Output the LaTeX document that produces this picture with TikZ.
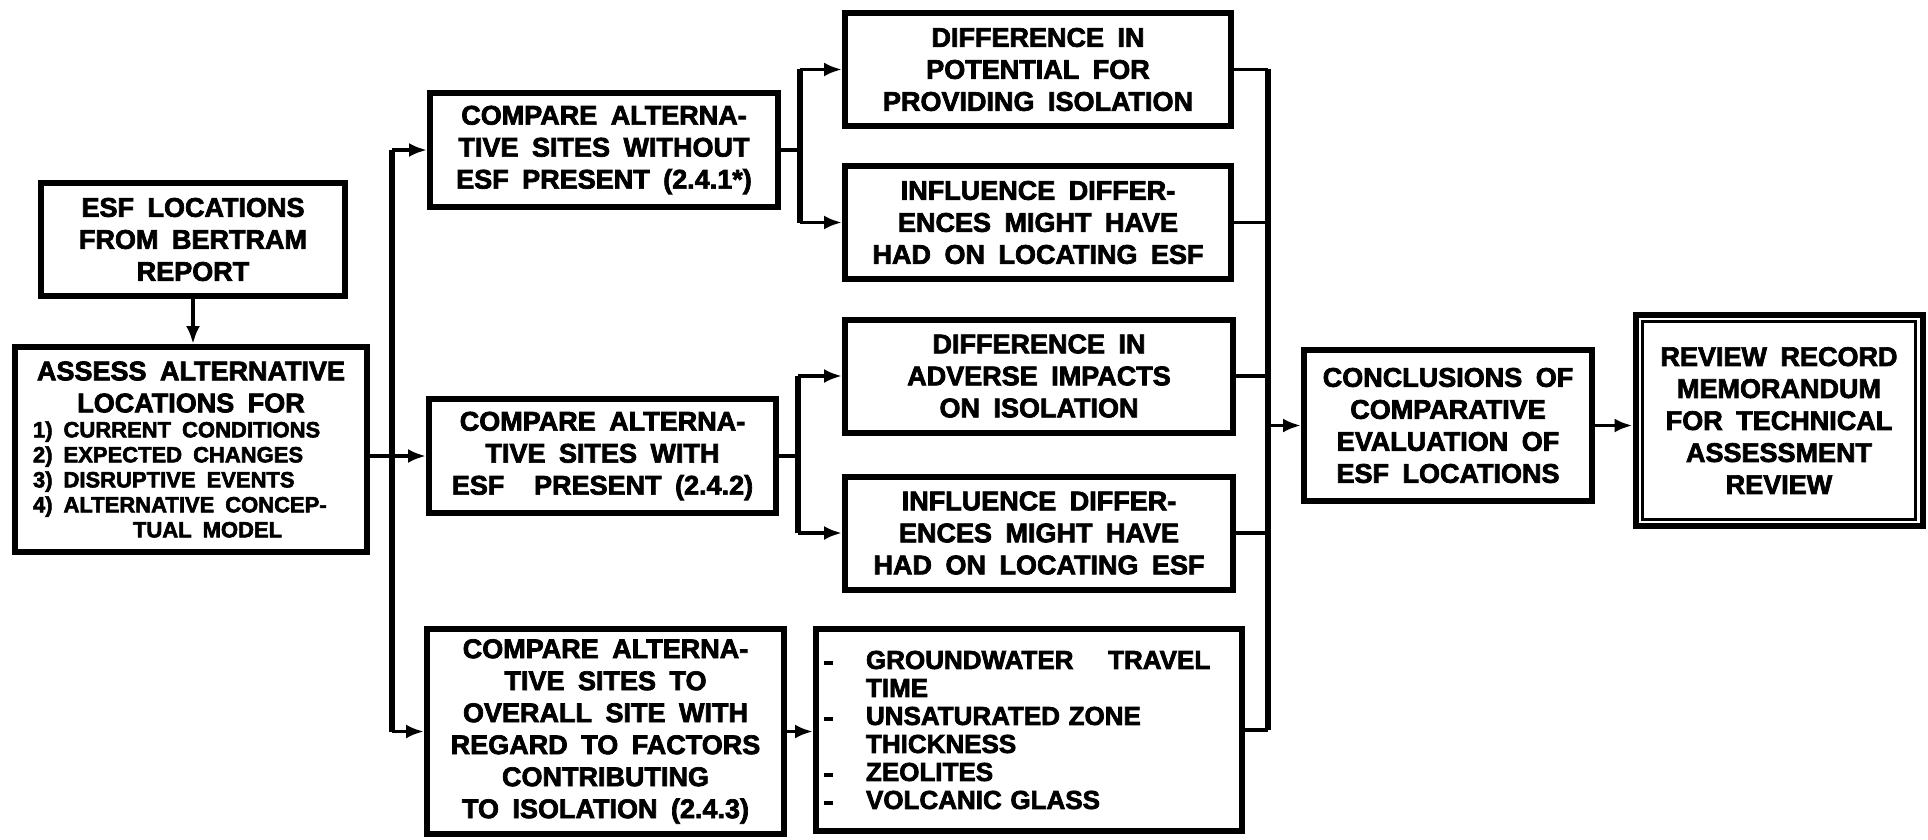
\documentclass[tikz,border=0pt]{standalone}
\usepackage{fontspec}
\newfontfamily\hv{Liberation Sans Bold}[FakeBold=2.6,WordSpace=1.8]
\usetikzlibrary{arrows.meta}
\newcommand{\gwdash}{\makebox[21pt][l]{\rule[0.14em]{4.5pt}{2.4pt}}}
\tikzset{
  box/.style={draw, line width=3pt, inner sep=2pt, align=center,
    font=\hv\fontsize{13.5}{16}\selectfont},
  conn/.style={line width=1.8pt},
  bus/.style={line width=2.6pt},
  arr/.style={conn, -{Latex[length=9pt,width=7pt]}},
}
\begin{document}
\begin{tikzpicture}[x=0.5pt,y=-0.5pt]
\useasboundingbox[fill=white] (0,0) rectangle (1928,840);

\node[box, minimum width=152pt, minimum height=56.5pt] (esf) at (193,239.5)
  {ESF LOCATIONS\\FROM BERTRAM\\REPORT};
\node[box, minimum width=176pt, minimum height=102.5pt] (assess) at (191,449.5)
  {\begin{minipage}{170pt}\centering
   ASSESS ALTERNATIVE\\LOCATIONS FOR\par
   \fontsize{11}{12.5}\selectfont\raggedright\leftskip=6pt
   1) CURRENT CONDITIONS\\
   2) EXPECTED CHANGES\\
   3) DISRUPTIVE EVENTS\\
   4) ALTERNATIVE CONCEP-\\
   \hspace*{50pt}TUAL MODEL\par
   \end{minipage}};

\node[box, minimum width=174pt, minimum height=57pt] (c1) at (604,150)
  {COMPARE ALTERNA-\\TIVE SITES WITHOUT\\ESF PRESENT (2.4.1*)};
\node[box, minimum width=173.5pt, minimum height=57pt] (c2) at (602.5,456)
  {COMPARE ALTERNA-\\TIVE SITES WITH\\ESF\hspace{0.6em} PRESENT (2.4.2)};
\node[box, minimum width=178.5pt, minimum height=102.5pt] (c3) at (605.5,731.5)
  {COMPARE ALTERNA-\\TIVE SITES TO\\OVERALL SITE WITH\\REGARD TO FACTORS\\CONTRIBUTING\\TO ISOLATION (2.4.3)};

\node[box, minimum width=193pt, minimum height=56.5pt] (d1) at (1038,69.5)
  {DIFFERENCE IN\\POTENTIAL FOR\\PROVIDING ISOLATION};
\node[box, minimum width=193pt, minimum height=56.5pt] (i1) at (1038,222.5)
  {INFLUENCE DIFFER-\\ENCES MIGHT HAVE\\HAD ON LOCATING ESF};
\node[box, minimum width=194pt, minimum height=56.5pt] (d2) at (1039,376)
  {DIFFERENCE IN\\ADVERSE IMPACTS\\ON ISOLATION};
\node[box, minimum width=194pt, minimum height=56.5pt] (i2) at (1039,533)
  {INFLUENCE DIFFER-\\ENCES MIGHT HAVE\\HAD ON LOCATING ESF};

\node[box, align=left, text width=205pt, inner xsep=4pt, minimum height=101pt,
  font=\hv\fontsize{13}{14}\selectfont] (gw) at (1029,730)
  {\gwdash GROUNDWATER\hspace{1em} TRAVEL\\
   \hspace*{21pt}TIME\\
   \gwdash UNSATURATED ZONE\\
   \hspace*{21pt}THICKNESS\\
   \gwdash ZEOLITES\\
   \gwdash VOLCANIC GLASS};

\node[box, minimum width=144pt, minimum height=75.5pt] (concl) at (1448,425.5)
  {CONCLUSIONS OF\\COMPARATIVE\\EVALUATION OF\\ESF LOCATIONS};
\node[box, minimum width=143.5pt, minimum height=105.5pt] (rev) at (1779,420.5)
  {REVIEW RECORD\\MEMORANDUM\\FOR TECHNICAL\\ASSESSMENT\\REVIEW};
\draw[line width=1.5pt] ([shift={(4.8pt,-4.8pt)}]rev.north west)
  rectangle ([shift={(-4.8pt,4.8pt)}]rev.south east);

% connectors
\coordinate (bl) at (392,0);
\coordinate (b1) at (800,0);
\coordinate (b2) at (798,0);
\coordinate (br) at (1268,0);

\draw[arr] (esf.south) -- (esf.south |- assess.north);
\draw[arr] (assess.east |- c2.west) -- (c2.west);
\draw[bus] (bl |- c1.west) -- (bl |- c3.west);
\draw[arr] (bl |- c1.west) -- (c1.west);
\draw[arr] (bl |- c3.west) -- (c3.west);

\draw[conn] (c1.east) -- (b1 |- c1.east);
\draw[bus] (b1 |- d1.west) -- (b1 |- i1.west);
\draw[arr] (b1 |- d1.west) -- (d1.west);
\draw[arr] (b1 |- i1.west) -- (i1.west);

\draw[conn] (c2.east) -- (b2 |- c2.east);
\draw[bus] (b2 |- d2.west) -- (b2 |- i2.west);
\draw[arr] (b2 |- d2.west) -- (d2.west);
\draw[arr] (b2 |- i2.west) -- (i2.west);

\draw[arr] (c3.east) -- (c3.east -| gw.west);

\draw[conn] (d1.east) -- (br |- d1.east);
\draw[conn] (i1.east) -- (br |- i1.east);
\draw[conn] (d2.east) -- (br |- d2.east);
\draw[conn] (i2.east) -- (br |- i2.east);
\draw[conn] (gw.east) -- (br |- gw.east);
\draw[bus] (br |- d1.east) -- (br |- gw.east);
\draw[arr] (br |- concl.west) -- (concl.west);
\draw[arr] (concl.east) -- (concl.east -| rev.west);
\end{tikzpicture}
\end{document}
